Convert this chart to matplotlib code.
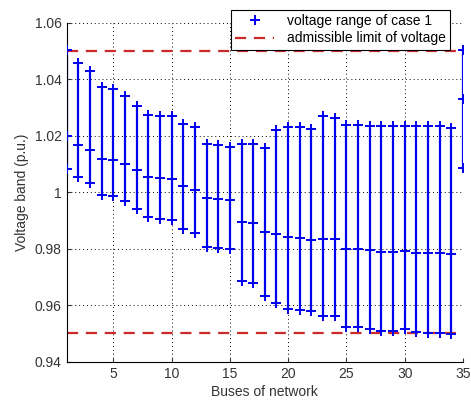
import matplotlib.pyplot as plt
import numpy as np

plt.rcParams['font.family'] = ['Liberation Sans', 'DejaVu Sans']

# voltage band per bus
buses = np.arange(1, 36)
v_upper = [1.0502, 1.0458, 1.0429, 1.0371, 1.0365, 1.0342, 1.0306, 1.0274, 1.0271, 1.0268,
           1.0242, 1.0230, 1.0172, 1.0168, 1.0160, 1.0172, 1.0172, 1.0157, 1.0219, 1.0230,
           1.0230, 1.0225, 1.0268, 1.0263, 1.0239, 1.0239, 1.0236, 1.0233, 1.0233, 1.0236,
           1.0233, 1.0233, 1.0233, 1.0228, 1.0502]
v_mid = [1.0198, 1.0166, 1.0151, 1.0116, 1.0113, 1.0099, 1.0078, 1.0055, 1.0051, 1.0046,
         1.0023, 1.0008, 0.9979, 0.9977, 0.9973, 0.9894, 0.9891, 0.9860, 0.9853, 0.9842,
         0.9839, 0.9830, 0.9836, 0.9833, 0.9798, 0.9798, 0.9795, 0.9788, 0.9788, 0.9792,
         0.9784, 0.9784, 0.9784, 0.9780, 1.0330]
v_lower = [1.0082, 1.0053, 1.0032, 0.9991, 0.9988, 0.9970, 0.9942, 0.9912, 0.9906, 0.9901,
           0.9870, 0.9854, 0.9807, 0.9804, 0.9798, 0.9684, 0.9677, 0.9634, 0.9607, 0.9587,
           0.9584, 0.9579, 0.9560, 0.9560, 0.9523, 0.9523, 0.9517, 0.9509, 0.9509, 0.9515,
           0.9505, 0.9503, 0.9503, 0.9499, 1.0084]
v_max = 1.05
v_min = 0.95

fig = plt.figure(figsize=(4.71, 4.05), dpi=100)
ax = fig.add_axes([0.1416, 0.107, 0.8414, 0.837])

blue = '#0000ee'
red = '#cc2a2a'
ax.vlines(buses, v_lower, v_upper, color=blue, lw=1.6, zorder=2)
ax.plot(buses, v_upper, '+', color=blue, ms=6.5, mew=1.4, zorder=3, label='voltage range of case 1')
ax.plot(buses, v_mid, '+', color=blue, ms=6.5, mew=1.4, zorder=3)
ax.plot(buses, v_lower, '+', color=blue, ms=6.5, mew=1.4, zorder=3)

ax.plot([1, 35], [v_max, v_max], '--', color=red, lw=1.6, dashes=(5, 3.5), label='admissible limit of voltage')
ax.plot([1, 35], [v_min, v_min], '--', color=red, lw=1.6, dashes=(5, 3.5))

ax.set_xlim(1, 35)
ax.set_ylim(0.94, 1.06)
ax.set_xticks([5, 10, 15, 20, 25, 30, 35])
ax.set_yticks([0.94, 0.96, 0.98, 1.0, 1.02, 1.04, 1.06])
ax.set_yticklabels(['0.94', '0.96', '0.98', '1', '1.02', '1.04', '1.06'])
ax.tick_params(direction='in', labelsize=10, colors='#333333', length=3)
ax.grid(True, linestyle=(0, (1, 3)), color='black', lw=0.7)
ax.spines['top'].set_visible(False)
ax.spines['right'].set_visible(False)

ax.set_xlabel('Buses of network', fontsize=10, color='#333333', labelpad=3)
ax.set_ylabel('Voltage band (p.u.)', fontsize=10, color='#333333', labelpad=4)

leg = ax.legend(loc='upper right', bbox_to_anchor=(0.970, 0.993), bbox_transform=fig.transFigure,
                fontsize=10, fancybox=False, framealpha=1, edgecolor='black',
                handlelength=2.8, handletextpad=0.9, borderpad=0.3, labelspacing=0.25)
leg.get_frame().set_linewidth(0.8)

fig.savefig('out.png', dpi=100)
